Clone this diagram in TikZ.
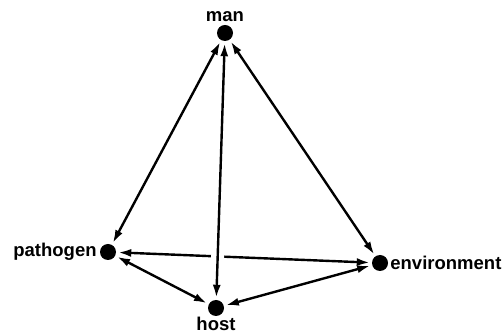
\documentclass[tikz,border=0pt]{standalone}
\usepackage{fontspec}
\setmainfont{Liberation Sans}
\usepackage{tikz}
\usetikzlibrary{arrows.meta,positioning}

\begin{document}
\begin{tikzpicture}[x=1pt, y=1pt,
    dot/.style={circle, fill=black, minimum size=16pt, inner sep=0pt},
    lbl/.style={font=\fontsize{18.5}{20}\selectfont\bfseries, inner sep=1pt},
    link/.style={{Latex[length=13pt,width=8pt]}-{Latex[length=13pt,width=8pt]}, line width=2.4pt, shorten <=2pt, shorten >=2pt}
]
    \useasboundingbox (0,0) rectangle (503,334);

    % the four points
    \node[dot] (man) at (225,301) {};
    \node[dot] (pathogen) at (108,82) {};
    \node[dot] (host) at (216,26) {};
    \node[dot] (env) at (380,71) {};

    \node[lbl, above=2pt of man] (manlbl) {man};
    \node[lbl, left=2pt of pathogen] (pathlbl) {pathogen};
    \node[lbl, below=0pt of host] (hostlbl) {host};
    \node[lbl, right=1pt of env] (envlbl) {environment};

    % links
    \draw[link] (man) -- (pathogen);
    \draw[link] (man) -- (env);
    \draw[link] (env) -- (pathogen);
    \draw[link] (pathogen) -- (host);
    \draw[link] (host) -- (env);
    \draw[link, preaction={draw=white, -, line width=13pt, shorten <=208pt, shorten >=38pt}] (man) -- (host);
\end{tikzpicture}
\end{document}
